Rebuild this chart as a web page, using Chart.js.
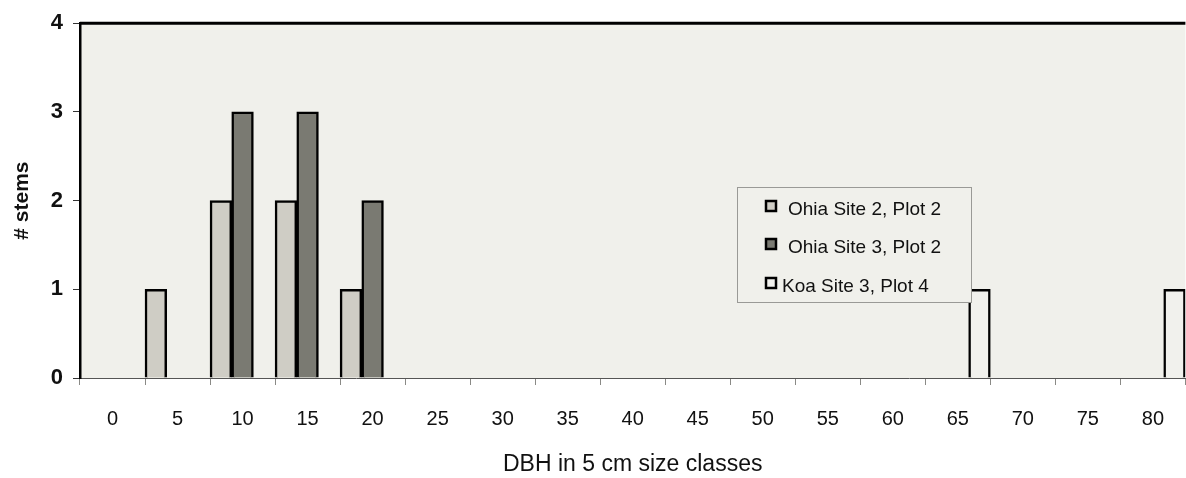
<!DOCTYPE html>
<html><head><meta charset="utf-8">
<script src="https://cdn.jsdelivr.net/npm/chart.js@4"></script>
<style>html,body{margin:0;padding:0;background:#fff}#wrap{width:1186px;height:478px}</style>
</head><body><div id="wrap"><canvas id="c" width="1186" height="478"></canvas></div>
<script>
const categories = ['0','5','10','15','20','25','30','35','40','45','50','55','60','65','70','75','80'];
const ohiaSite2Plot2 = [0,1,2,2,1,0,0,0,0,0,0,0,0,0,0,0,0];
const ohiaSite3Plot2 = [0,0,3,3,2,0,0,0,0,0,0,0,0,0,0,0,0];
const koaSite3Plot4  = [0,0,0,0,0,0,0,0,0,0,0,0,0,1,0,0,1];
const seriesLabels = ['Ohia Site 2, Plot 2','Ohia Site 3, Plot 2','Koa Site 3, Plot 4'];
const yTicks = [0,1,2,3,4];
const xTitle = 'DBH in 5 cm size classes';
const yTitle = '# stems';

const colors = ['#cfcdc5','#7a7a72','#f1f1ed'];
const PLOT_BG = '#f0f0eb';
const FONT = 'Arial, "Liberation Sans", sans-serif';

const bgPlugin = {
  id: 'bg',
  beforeDraw(chart) {
    const {ctx, chartArea: a} = chart;
    ctx.save();
    ctx.fillStyle = PLOT_BG;
    ctx.fillRect(a.left, a.top, a.right - a.left, a.bottom - a.top);
    ctx.restore();
  },
  afterDraw(chart) {
    const {ctx, chartArea: a} = chart;
    ctx.save();
    ctx.strokeStyle = '#000';
    ctx.lineWidth = 3;
    ctx.beginPath(); ctx.moveTo(a.left, a.top); ctx.lineTo(a.right, a.top); ctx.stroke();
    // legend box
    const lx = 737, ly = 187, lw = 234, lh = 115;
    ctx.fillStyle = PLOT_BG;
    ctx.fillRect(lx, ly, lw, lh);
    ctx.strokeStyle = '#9a9a96';
    ctx.lineWidth = 1;
    ctx.strokeRect(lx + 0.5, ly + 0.5, lw, lh);
    const rows = [209, 247, 286];
    const textX = [788, 788, 782];
    ctx.font = '19px ' + FONT;
    ctx.textBaseline = 'middle';
    chart.data.datasets.forEach((ds, i) => {
      ctx.fillStyle = ds.backgroundColor;
      ctx.fillRect(766, rows[i] - 8, 10, 10);
      ctx.strokeStyle = '#000';
      ctx.lineWidth = 2.5;
      ctx.strokeRect(766, rows[i] - 8, 10, 10);
      ctx.fillStyle = '#111';
      ctx.fillText(ds.label, textX[i], rows[i] + 1);
    });
    ctx.restore();
  }
};

new Chart(document.getElementById('c'), {
  type: 'bar',
  data: {
    labels: categories,
    datasets: [ohiaSite2Plot2, ohiaSite3Plot2, koaSite3Plot4].map((d, i) => ({
      label: seriesLabels[i],
      data: d,
      backgroundColor: colors[i],
      borderColor: '#000',
      borderWidth: 2.5,
      borderSkipped: 'bottom',
      barPercentage: 1,
      categoryPercentage: 1
    }))
  },
  options: {
    responsive: false,
    animation: false,
    layout: {padding: {top: 19, right: 0, left: 0, bottom: 0}},
    plugins: {legend: {display: false}, tooltip: {enabled: false}},
    scales: {
      x: {
        offset: true,
        grid: {offset: true, drawOnChartArea: false, drawTicks: true, tickLength: 7, color: '#8a8a86', lineWidth: 1},
        border: {color: '#555', width: 1},
        ticks: {color: '#111', font: {family: FONT, size: 20}, padding: 22, maxRotation: 0, autoSkip: false},
        title: {display: true, text: xTitle, color: '#111', font: {family: FONT, size: 23}, padding: {top: 20, bottom: 0}},
        afterFit(s) { s.height = 100; }
      },
      y: {
        min: 0, max: 4,
        afterBuildTicks(s) { s.ticks = yTicks.map(v => ({value: v})); },
        grid: {drawOnChartArea: false, drawTicks: true, tickLength: 7, color: '#333'},
        border: {color: '#000', width: 2.5},
        ticks: {color: '#111', font: {family: FONT, size: 22, weight: 'bold'}, padding: 10},
        title: {display: true, text: yTitle, color: '#111', font: {family: FONT, size: 21, weight: 'bold'}, padding: {top: 10, bottom: 0}},
        afterFit(s) { s.width = 80; }
      }
    }
  },
  plugins: [bgPlugin]
});
</script>
</body></html>
